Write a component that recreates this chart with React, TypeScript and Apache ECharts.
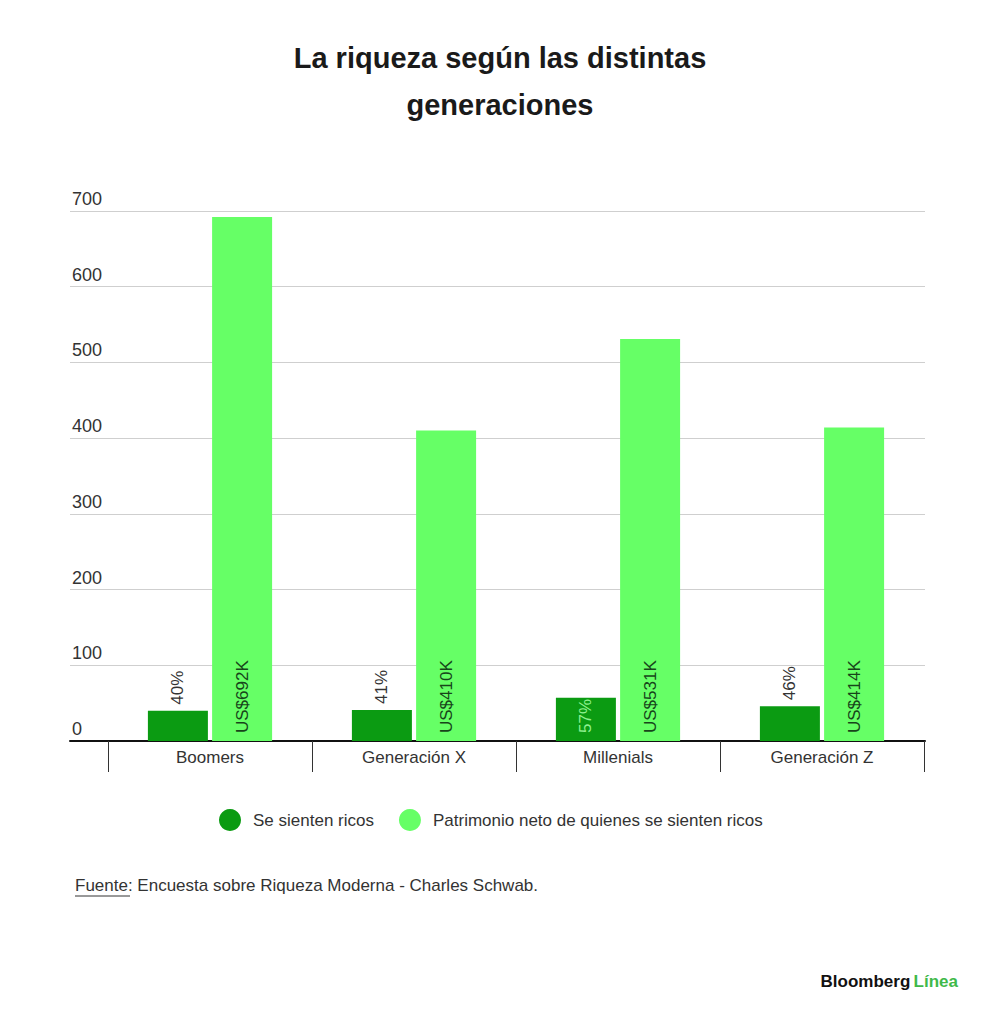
import React, { useEffect, useRef } from "react";
import * as echarts from "echarts";

const categories = ["Boomers", "Generación X", "Millenials", "Generación Z"];
const feelRich = [40, 41, 57, 46];
const netWorth = [692, 410, 531, 414];
const feelRichLabels = ["40%", "41%", "57%", "46%"];
const netWorthLabels = ["US$692K", "US$410K", "US$531K", "US$414K"];
const yTicks = [0, 100, 200, 300, 400, 500, 600, 700];
const seriesNames = ["Se sienten ricos", "Patrimonio neto de quienes se sienten ricos"];

const FONT = "'Liberation Sans', Arial, sans-serif";
const DARK = "#0b9b12";
const LIGHT = "#66ff66";

export default function App() {
  const ref = useRef<HTMLDivElement>(null);
  useEffect(() => {
    document.body.style.margin = "0";
    const chart = echarts.init(ref.current!, null, { renderer: "svg" });
    const yMax = yTicks[yTicks.length - 1];
    const yInterval = yTicks[1] - yTicks[0];
    chart.setOption({
      animation: false,
      backgroundColor: "#ffffff",
      textStyle: { fontFamily: FONT },
      title: {
        text: "La riqueza según las distintas\ngeneraciones",
        left: "center",
        top: 29,
        textStyle: {
          fontFamily: FONT,
          fontWeight: "bold",
          fontSize: 29,
          lineHeight: 47,
          color: "#1a1a1a",
        },
      },
      legend: {
        data: seriesNames,
        bottom: 189,
        left: 214,
        icon: "circle",
        itemWidth: 22,
        itemHeight: 22,
        itemGap: 25,
        textStyle: { fontFamily: FONT, fontSize: 17, color: "#333", padding: [0, 0, 0, 7] },
      },
      grid: [
        { left: 70, right: 75, top: 211, bottom: 284 },
        { left: 108, right: 76, top: 211, bottom: 284 },
      ],
      xAxis: [
        {
          gridIndex: 0,
          type: "value",
          min: 0,
          max: 1,
          axisLine: { show: true, lineStyle: { color: "#111", width: 2 } },
          axisTick: { show: false },
          axisLabel: { show: false },
          splitLine: { show: false },
        },
        {
          gridIndex: 1,
          type: "category",
          data: categories,
          axisLine: { show: false },
          axisTick: { show: true, length: 31, lineStyle: { color: "#333", width: 1 } },
          axisLabel: { fontFamily: FONT, fontSize: 17, color: "#333", margin: 8 },
        },
      ],
      yAxis: [
        {
          gridIndex: 0,
          type: "value",
          min: 0,
          max: yMax,
          interval: yInterval,
          axisLine: { show: false },
          axisTick: { show: false },
          axisLabel: {
            inside: true,
            margin: 2,
            align: "left",
            verticalAlign: "bottom",
            padding: [0, 0, 3, 0],
            fontFamily: FONT,
            fontSize: 18,
            color: "#333",
          },
          splitLine: { show: true, lineStyle: { color: "#cfcfcf", width: 1 } },
        },
        {
          gridIndex: 1,
          type: "value",
          min: 0,
          max: yMax,
          interval: yInterval,
          show: false,
          splitLine: { show: false },
        },
      ],
      series: [
        {
          name: seriesNames[0],
          type: "bar",
          xAxisIndex: 1,
          yAxisIndex: 1,
          barWidth: 60,
          barGap: "7%",
          itemStyle: { color: DARK },
          data: feelRich.map((v, i) =>
            i === 2
              ? {
                  value: v,
                  label: {
                    position: "insideBottom",
                    distance: 8,
                    color: "#8ff08f",
                  },
                }
              : v
          ),
          label: {
            show: true,
            position: "top",
            distance: 6,
            rotate: 90,
            align: "left",
            verticalAlign: "middle",
            fontFamily: FONT,
            fontSize: 17,
            color: "#333",
            formatter: (p: any) => feelRichLabels[p.dataIndex],
          },
        },
        {
          name: seriesNames[1],
          type: "bar",
          xAxisIndex: 1,
          yAxisIndex: 1,
          barWidth: 60,
          barGap: "7%",
          itemStyle: { color: LIGHT },
          data: netWorth,
          label: {
            show: true,
            position: "insideBottom",
            distance: 8,
            rotate: 90,
            align: "left",
            verticalAlign: "middle",
            fontFamily: FONT,
            fontSize: 17,
            color: "#17451a",
            formatter: (p: any) => netWorthLabels[p.dataIndex],
          },
        },
      ],
      graphic: [
        {
          type: "text",
          left: 75,
          top: 877,
          style: {
            text: "Fuente: Encuesta sobre Riqueza Moderna - Charles Schwab.",
            fontFamily: FONT,
            fontSize: 17,
            fill: "#333",
          },
        },
        {
          type: "line",
          shape: { x1: 75, y1: 896, x2: 130, y2: 896 },
          style: { stroke: "#333", lineWidth: 1 },
        },
        {
          type: "text",
          right: 42,
          top: 973,
          style: {
            text: "{b|Bloomberg} {g|Línea}",
            rich: {
              b: { fontFamily: FONT, fontWeight: "bold", fontSize: 17, fill: "#111" },
              g: { fontFamily: FONT, fontWeight: "bold", fontSize: 17, fill: "#3fb94a" },
            },
          },
        },
      ],
    });
    return () => chart.dispose();
  }, []);
  return <div ref={ref} style={{ width: 1000, height: 1025 }} />;
}
